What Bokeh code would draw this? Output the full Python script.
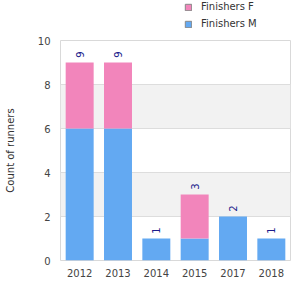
import math
from bokeh.plotting import figure
from bokeh.layouts import column
from bokeh.models import ColumnDataSource, Legend, LegendItem, FixedTicker
from bokeh.core.properties import value
from bokeh.embed import file_html
from bokeh.resources import INLINE

years = ["2012", "2013", "2014", "2015", "2017", "2018"]
finishers_m = [6, 6, 1, 1, 2, 1]
finishers_f = [3, 3, 0, 2, 0, 0]
totals = [m + f for m, f in zip(finishers_m, finishers_f)]
y_ticks = [0, 2, 4, 6, 8, 10]
series_labels = ["Finishers F", "Finishers M"]
blue = "#63a9f2"
pink = "#f285bb"
FONT = "DejaVu Sans"

src = ColumnDataSource(dict(year=years, m=finishers_m, f=finishers_f,
                            total=totals, label=[str(t) for t in totals]))

# ---- legend strip (small figure above the chart; its bars lie outside its range) ----
lf = figure(width=300, height=35, x_range=years, y_range=(100, 101),
            x_axis_type=None, y_axis_type=None, min_border=0,
            output_backend="svg", toolbar_location=None)
lf.outline_line_color = None
lf.background_fill_color = "white"
lf.border_fill_color = "white"
lf.grid.visible = False
leg_r = lf.vbar_stack(["m", "f"], x="year", width=0.73, source=src,
                      color=[blue, pink], line_color="#888888")
legend = Legend(items=[LegendItem(label=series_labels[0], renderers=[leg_r[1]]),
                       LegendItem(label=series_labels[1], renderers=[leg_r[0]])],
                location=(124, 6), border_line_color=None, margin=0,
                background_fill_alpha=0, padding=2, spacing=6,
                glyph_width=8, glyph_height=8, label_standoff=9,
                label_text_font_size="10px", label_text_color="#333333",
                label_text_font=FONT, label_height=9)
lf.add_layout(legend)

# ---- main chart ----
p = figure(x_range=years, y_range=(0, 10), width=300, height=265,
           output_backend="svg", toolbar_location=None,
           min_border_left=60, min_border_right=10, min_border_top=5,
           min_border_bottom=40)
p.background_fill_color = "white"
p.border_fill_color = "white"
p.outline_line_color = "#d9d9d9"

p.vbar_stack(["m", "f"], x="year", width=0.73, source=src,
             color=[blue, pink], line_color=None)

p.text(x="year", y="total", text="label", source=src, angle=math.pi / 2,
       text_align="center", text_baseline="middle", y_offset=-8,
       text_font_size="10px", text_color="#1c1c8c", text_font=value(FONT))

p.yaxis.ticker = FixedTicker(ticks=y_ticks)
p.yaxis.axis_label = "Count of runners"
p.yaxis.axis_label_text_font_style = "normal"
p.yaxis.axis_label_text_font_size = "10px"
p.yaxis.axis_label_text_color = "#333333"
p.yaxis.axis_label_text_font = FONT
p.yaxis.axis_label_standoff = 19
for ax in (p.xaxis, p.yaxis):
    ax.axis_line_color = None
    ax.major_tick_line_color = None
    ax.minor_tick_line_color = None
    ax.major_tick_out = 0
    ax.major_tick_in = 0
    ax.minor_tick_out = 0
    ax.major_label_text_font_size = "10px"
    ax.major_label_text_color = "#444444"
    ax.major_label_text_font = FONT
p.xaxis.major_label_standoff = 8
p.yaxis.major_label_standoff = 10

p.xgrid.grid_line_color = None
p.ygrid.grid_line_color = "#dddddd"
p.ygrid.band_fill_color = "#f2f2f2"
p.ygrid.band_fill_alpha = 1.0

layout = column(lf, p, spacing=0)
open("out.html", "w").write(file_html(layout, INLINE))
